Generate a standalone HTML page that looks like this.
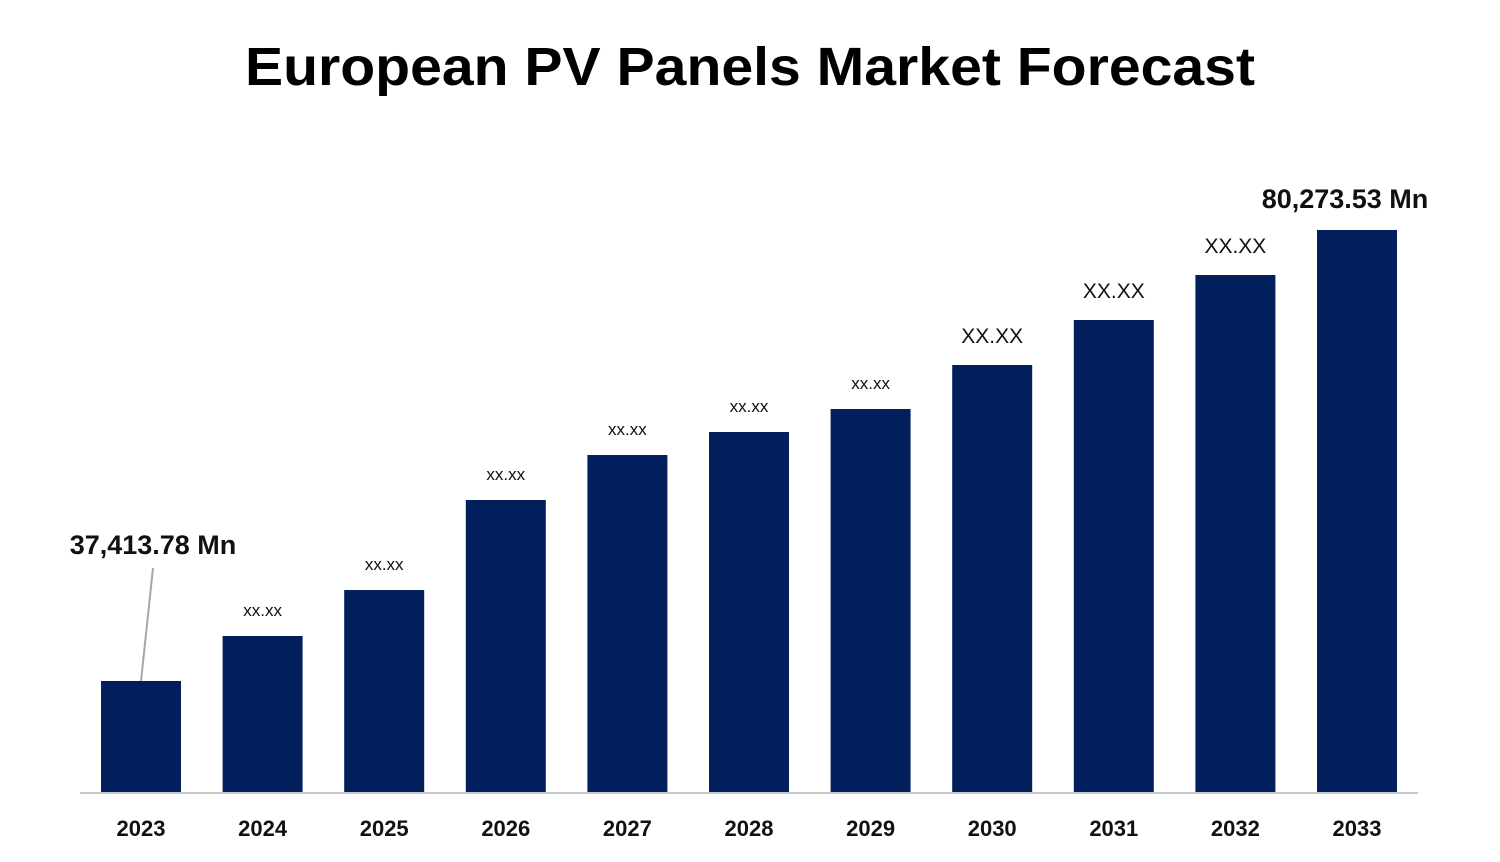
<!DOCTYPE html>
<html><head><meta charset="utf-8"><style>
html,body{margin:0;padding:0;background:#fff;}
svg{display:block;font-family:"Liberation Sans",sans-serif;}
</style></head><body>
<svg id="chart" width="1500" height="862" viewBox="0 0 1500 862">
<text x="750" y="85" text-anchor="middle" font-size="54" font-weight="bold" fill="#000" textLength="1010" lengthAdjust="spacingAndGlyphs">European PV Panels Market Forecast</text>
<g id="bars"></g>
<line x1="80" y1="793" x2="1418" y2="793" stroke="#c8c8c8" stroke-width="2"/>
</svg>
<script>
const categories = ["2023","2024","2025","2026","2027","2028","2029","2030","2031","2032","2033"];
const values = [37413.78,41690,46060,54614,58890,61076,63262,67443,71720,75996,80273.53];
const valueLabels = ["37,413.78 Mn","xx.xx","xx.xx","xx.xx","xx.xx","xx.xx","xx.xx","XX.XX","XX.XX","XX.XX","80,273.53 Mn"];

const svg = document.getElementById('bars');
const NS = 'http://www.w3.org/2000/svg';
const baseY = 792, vMin = 26865, vMax = 80273.53, hMax = 562;
const y = v => baseY - (v - vMin) / (vMax - vMin) * hMax;
const x0 = 141, step = 121.6, barW = 80;
const xc = i => x0 + i * step;

categories.forEach((c, i) => {
  const top = y(values[i]);
  const r = document.createElementNS(NS, 'rect');
  r.setAttribute('x', xc(i) - barW / 2);
  r.setAttribute('y', top);
  r.setAttribute('width', barW);
  r.setAttribute('height', baseY - top);
  r.setAttribute('fill', '#001f5c');
  
  
  svg.appendChild(r);

  const t = document.createElementNS(NS, 'text');
  t.setAttribute('x', xc(i));
  t.setAttribute('y', 836);
  t.setAttribute('text-anchor', 'middle');
  t.setAttribute('font-size', '22');
  t.setAttribute('font-weight', 'bold');
  t.setAttribute('fill', '#111');
  t.textContent = c;
  
  
  svg.appendChild(t);

  const lab = document.createElementNS(NS, 'text');
  const isBig = i === 0 || i === categories.length - 1;
  const isUpper = valueLabels[i] === 'XX.XX';
  if (i === 0) {
    lab.setAttribute('x', 153);
    lab.setAttribute('y', 554);
  } else if (isBig) {
    lab.setAttribute('x', 1345);
    lab.setAttribute('y', top - 22);
  } else {
    lab.setAttribute('x', xc(i));
    lab.setAttribute('y', top - (isUpper ? 22 : 20));
  }
  lab.setAttribute('text-anchor', 'middle');
  lab.setAttribute('font-size', isBig ? '27' : (isUpper ? '21' : '17'));
  if (isBig) lab.setAttribute('font-weight', 'bold');
  lab.setAttribute('fill', '#111');
  lab.textContent = valueLabels[i];
  
  
  svg.appendChild(lab);

  if (i === 0) {
    const l = document.createElementNS(NS, 'line');
    l.setAttribute('x1', 153); l.setAttribute('y1', 568);
    l.setAttribute('x2', xc(0)); l.setAttribute('y2', top);
    l.setAttribute('stroke', '#a6a6a6'); l.setAttribute('stroke-width', '2');
    
    
    svg.appendChild(l);
  }
});
</script>
</body></html>
